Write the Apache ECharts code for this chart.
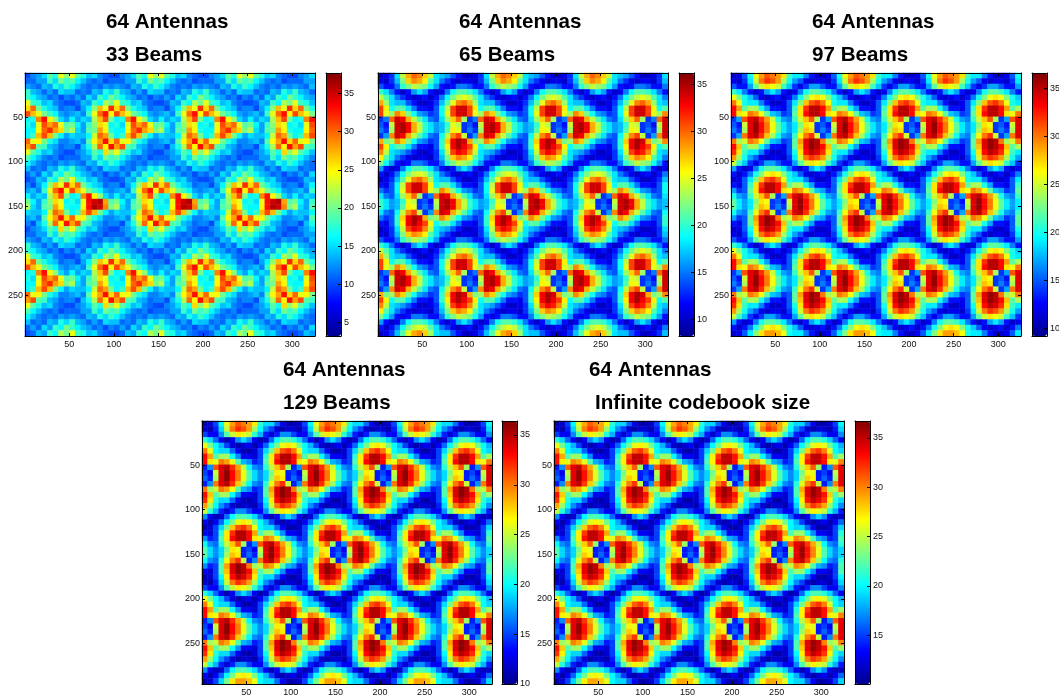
<!DOCTYPE html>
<html><head><meta charset="utf-8">
<style>html,body{margin:0;padding:0;background:#fff}#c{width:1059px;height:699px}</style>
<script src="https://cdn.jsdelivr.net/npm/echarts@6/dist/echarts.min.js"></script>
</head><body><div id="c"></div>
<script>
const beams33 = [
[10,12,13,15,19,17,24,21,24,19,17,14,15,12,11,10,10,12,13,15,19,17,24,21,24,19,17,14,15,12,11,10,10,12,13,15,19,17,24,21,24,19,17,14,15,12,11,10,10,12,13,15],
[11,11,13,13,18,15,20,18,19,16,14,12,11,12,10,11,11,11,13,13,18,15,20,18,19,16,14,12,11,12,10,11,11,11,13,13,18,15,20,18,19,16,14,12,11,12,10,11,11,11,13,13],
[13,12,11,14,13,17,15,18,16,14,12,11,12,11,13,12,13,12,11,14,13,17,15,18,16,14,12,11,12,11,13,12,13,12,11,14,13,17,15,18,16,14,12,11,12,11,13,12,13,12,11,14],
[18,14,13,11,13,11,15,14,14,11,12,11,14,13,17,15,18,14,13,11,13,11,15,14,14,11,12,11,14,13,17,15,18,14,13,11,13,11,15,14,14,11,12,11,14,13,17,15,18,14,13,11],
[18,16,14,13,11,12,10,12,11,13,11,15,13,18,16,20,18,16,14,13,11,12,10,12,11,13,11,15,13,18,16,20,18,16,14,13,11,12,10,12,11,13,11,15,13,18,16,20,18,16,14,13],
[24,18,17,14,15,12,11,10,10,11,14,13,18,16,22,20,24,18,17,14,15,12,11,10,10,11,14,13,18,16,22,20,24,18,17,14,15,12,11,10,10,11,14,13,18,16,22,20,24,18,17,14],
[26,30,20,17,15,14,11,12,12,10,13,16,21,27,24,32,26,30,20,17,15,14,11,12,12,10,13,16,21,27,24,32,26,30,20,17,15,14,11,12,12,10,13,16,21,27,24,32,26,30,20,17],
[31,27,24,20,18,16,13,12,13,14,12,18,24,30,33,25,31,27,24,20,18,16,13,12,13,14,12,18,24,30,33,25,31,27,24,20,18,16,13,12,13,14,12,18,24,30,33,25,31,27,24,20],
[16,17,29,33,25,21,15,13,16,13,15,14,22,27,31,20,16,17,29,33,25,21,15,13,16,13,15,14,22,27,31,20,16,17,29,33,25,21,15,13,16,13,15,14,22,27,31,20,16,17,29,33],
[17,15,24,31,28,30,24,19,20,16,13,18,21,26,24,16,17,15,24,31,28,30,24,19,20,16,13,18,21,26,24,16,17,15,24,31,28,30,24,19,20,16,13,18,21,26,24,16,17,15,24,31],
[16,16,25,30,32,28,26,20,22,15,13,19,20,28,25,17,16,16,25,30,32,28,26,20,22,15,13,19,20,28,25,17,16,16,25,30,32,28,26,20,22,15,13,19,20,28,25,17,16,16,25,30],
[16,18,27,31,27,20,16,13,15,14,14,16,23,30,28,20,16,18,27,31,27,20,16,13,15,14,14,16,23,30,28,20,16,18,27,31,27,20,16,13,15,14,14,16,23,30,28,20,16,18,27,31],
[30,24,25,20,17,15,12,12,13,14,12,19,25,28,33,26,30,24,25,20,17,15,12,12,13,14,12,19,25,28,33,26,30,24,25,20,17,15,12,12,13,14,12,19,25,28,33,26,30,24,25,20],
[28,31,19,18,14,13,11,12,12,10,14,17,22,30,25,33,28,31,19,18,14,13,11,12,12,10,14,17,22,30,25,33,28,31,19,18,14,13,11,12,12,10,14,17,22,30,25,33,28,31,19,18],
[24,19,17,14,15,12,11,10,10,12,13,15,19,17,26,21,24,19,17,14,15,12,11,10,10,12,13,15,19,17,26,21,24,19,17,14,15,12,11,10,10,12,13,15,19,17,26,21,24,19,17,14],
[19,16,14,12,11,12,10,11,11,11,13,13,18,15,20,18,19,16,14,12,11,12,10,11,11,11,13,13,18,15,20,18,19,16,14,12,11,12,10,11,11,11,13,13,18,15,20,18,19,16,14,12],
[16,14,12,11,12,11,13,12,13,12,11,14,13,17,15,18,16,14,12,11,12,11,13,12,13,12,11,14,13,17,15,18,16,14,12,11,12,11,13,12,13,12,11,14,13,17,15,18,16,14,12,11],
[14,11,12,11,14,13,17,15,18,14,13,11,13,11,15,14,14,11,12,11,14,13,17,15,18,14,13,11,13,11,15,14,14,11,12,11,14,13,17,15,18,14,13,11,13,11,15,14,14,11,12,11],
[11,13,11,15,13,18,16,20,18,16,14,13,11,12,10,12,11,13,11,15,13,18,16,20,18,16,14,13,11,12,10,12,11,13,11,15,13,18,16,20,18,16,14,13,11,12,10,12,11,13,11,15],
[10,11,14,13,18,16,22,20,24,18,17,14,15,12,11,10,10,11,14,13,18,16,22,20,24,18,17,14,15,12,11,10,10,11,14,13,18,16,22,20,24,18,17,14,15,12,11,10,10,11,14,13],
[12,10,13,16,21,27,24,32,26,30,20,17,15,14,11,12,12,10,13,16,21,27,24,32,26,30,20,17,15,14,11,12,12,10,13,16,21,27,24,32,26,30,20,17,15,14,11,12,12,10,13,16],
[13,14,12,18,24,30,33,25,31,27,24,20,18,16,13,12,13,14,12,18,24,30,33,25,31,27,24,20,18,16,13,12,13,14,12,18,24,30,33,25,31,27,24,20,18,16,13,12,13,14,12,18],
[16,13,15,14,22,27,31,20,16,17,29,33,25,21,15,13,16,13,15,14,22,27,31,20,16,17,29,33,25,21,15,13,16,13,15,14,22,27,31,20,16,17,29,33,25,21,15,13,16,13,15,14],
[20,16,13,18,21,26,24,16,17,15,24,33,35,36,28,19,20,16,13,18,21,26,24,16,17,15,24,33,35,36,28,19,20,16,13,18,21,26,24,16,17,15,24,33,35,36,28,19,20,16,13,18],
[22,15,13,19,20,28,25,17,16,16,25,33,36,35,29,20,22,15,13,19,20,28,25,17,16,16,25,33,36,35,29,20,22,15,13,19,20,28,25,17,16,16,25,33,36,35,29,20,22,15,13,19],
[15,14,14,16,23,30,28,20,16,18,27,31,27,20,16,13,15,14,14,16,23,30,28,20,16,18,27,31,27,20,16,13,15,14,14,16,23,30,28,20,16,18,27,31,27,20,16,13,15,14,14,16],
[13,14,12,19,25,28,33,26,30,24,25,20,17,15,12,12,13,14,12,19,25,28,33,26,30,24,25,20,17,15,12,12,13,14,12,19,25,28,33,26,30,24,25,20,17,15,12,12,13,14,12,19],
[12,10,14,17,22,30,25,33,28,31,19,18,14,13,11,12,12,10,14,17,22,30,25,33,28,31,19,18,14,13,11,12,12,10,14,17,22,30,25,33,28,31,19,18,14,13,11,12,12,10,14,17],
[10,12,13,15,19,17,26,21,24,19,17,14,15,12,11,10,10,12,13,15,19,17,26,21,24,19,17,14,15,12,11,10,10,12,13,15,19,17,26,21,24,19,17,14,15,12,11,10,10,12,13,15],
[11,11,13,13,18,15,20,18,19,16,14,12,11,12,10,11,11,11,13,13,18,15,20,18,19,16,14,12,11,12,10,11,11,11,13,13,18,15,20,18,19,16,14,12,11,12,10,11,11,11,13,13],
[13,12,11,14,13,17,15,18,16,14,12,11,12,11,13,12,13,12,11,14,13,17,15,18,16,14,12,11,12,11,13,12,13,12,11,14,13,17,15,18,16,14,12,11,12,11,13,12,13,12,11,14],
[18,14,13,11,13,11,15,14,14,11,12,11,14,13,17,15,18,14,13,11,13,11,15,14,14,11,12,11,14,13,17,15,18,14,13,11,13,11,15,14,14,11,12,11,14,13,17,15,18,14,13,11],
[18,16,14,13,11,12,10,12,11,13,11,15,13,18,16,20,18,16,14,13,11,12,10,12,11,13,11,15,13,18,16,20,18,16,14,13,11,12,10,12,11,13,11,15,13,18,16,20,18,16,14,13],
[24,18,17,14,15,12,11,10,10,11,14,13,18,16,22,20,24,18,17,14,15,12,11,10,10,11,14,13,18,16,22,20,24,18,17,14,15,12,11,10,10,11,14,13,18,16,22,20,24,18,17,14],
[26,30,20,17,15,14,11,12,12,10,13,16,21,27,24,32,26,30,20,17,15,14,11,12,12,10,13,16,21,27,24,32,26,30,20,17,15,14,11,12,12,10,13,16,21,27,24,32,26,30,20,17],
[31,27,24,20,18,16,13,12,13,14,12,18,24,30,33,25,31,27,24,20,18,16,13,12,13,14,12,18,24,30,33,25,31,27,24,20,18,16,13,12,13,14,12,18,24,30,33,25,31,27,24,20],
[16,17,29,33,25,21,15,13,16,13,15,14,22,27,31,20,16,17,29,33,25,21,15,13,16,13,15,14,22,27,31,20,16,17,29,33,25,21,15,13,16,13,15,14,22,27,31,20,16,17,29,33],
[17,15,24,31,28,30,24,19,20,16,13,18,21,26,24,16,17,15,24,31,28,30,24,19,20,16,13,18,21,26,24,16,17,15,24,31,28,30,24,19,20,16,13,18,21,26,24,16,17,15,24,31],
[16,16,25,30,32,28,26,20,22,15,13,19,20,28,25,17,16,16,25,30,32,28,26,20,22,15,13,19,20,28,25,17,16,16,25,30,32,28,26,20,22,15,13,19,20,28,25,17,16,16,25,30],
[16,18,27,31,27,20,16,13,15,14,14,16,23,30,28,20,16,18,27,31,27,20,16,13,15,14,14,16,23,30,28,20,16,18,27,31,27,20,16,13,15,14,14,16,23,30,28,20,16,18,27,31],
[30,24,25,20,17,15,12,12,13,14,12,19,25,28,33,26,30,24,25,20,17,15,12,12,13,14,12,19,25,28,33,26,30,24,25,20,17,15,12,12,13,14,12,19,25,28,33,26,30,24,25,20],
[28,31,19,18,14,13,11,12,12,10,14,17,22,30,25,33,28,31,19,18,14,13,11,12,12,10,14,17,22,30,25,33,28,31,19,18,14,13,11,12,12,10,14,17,22,30,25,33,28,31,19,18],
[24,19,17,14,15,12,11,10,10,12,13,15,19,17,26,21,24,19,17,14,15,12,11,10,10,12,13,15,19,17,26,21,24,19,17,14,15,12,11,10,10,12,13,15,19,17,26,21,24,19,17,14],
[19,16,14,12,11,12,10,11,11,11,13,13,18,15,20,18,19,16,14,12,11,12,10,11,11,11,13,13,18,15,20,18,19,16,14,12,11,12,10,11,11,11,13,13,18,15,20,18,19,16,14,12],
[16,14,12,11,12,11,13,12,13,12,11,14,13,17,15,18,16,14,12,11,12,11,13,12,13,12,11,14,13,17,15,18,16,14,12,11,12,11,13,12,13,12,11,14,13,17,15,18,16,14,12,11],
[14,11,12,11,14,13,17,15,18,14,13,11,13,11,15,14,14,11,12,11,14,13,17,15,18,14,13,11,13,11,15,14,14,11,12,11,14,13,17,15,18,14,13,11,13,11,15,14,14,11,12,11],
[11,13,11,15,13,18,16,20,18,16,14,13,11,12,10,12,11,13,11,15,13,18,16,20,18,16,14,13,11,12,10,12,11,13,11,15,13,18,16,20,18,16,14,13,11,12,10,12,11,13,11,15],
[10,11,14,13,18,16,22,20,24,18,17,14,15,12,11,10,10,11,14,13,18,16,22,20,24,18,17,14,15,12,11,10,10,11,14,13,18,16,22,20,24,18,17,14,15,12,11,10,10,11,14,13]];
const beams65 = [
[10,11,13,18,24,28,30,29,27,24,18,17,16,14,12,10,10,11,13,18,24,28,30,29,27,24,18,17,16,14,12,10,10,11,13,18,24,28,30,29,27,24,18,17,16,14,12,10,10,11,13,18],
[11,10,13,17,22,27,29,28,26,21,18,15,13,11,10,11,11,10,13,17,22,27,29,28,26,21,18,15,13,11,10,11,11,10,13,17,22,27,29,28,26,21,18,15,13,11,10,11,11,10,13,17],
[14,12,12,15,20,22,24,23,22,19,16,12,11,12,15,15,14,12,12,15,20,22,24,23,22,19,16,12,11,12,15,15,14,12,12,15,20,22,24,23,22,19,16,12,11,12,15,15,14,12,12,15],
[20,18,15,12,10,12,16,18,16,12,10,11,15,19,21,21,20,18,15,12,10,12,16,18,16,12,10,11,15,19,21,21,20,18,15,12,10,12,16,18,16,12,10,11,15,19,21,21,20,18,15,12],
[24,21,18,15,13,11,10,11,12,10,12,15,19,22,24,25,24,21,18,15,13,11,10,11,12,10,12,15,19,22,24,25,24,21,18,15,13,11,10,11,12,10,12,15,19,22,24,25,24,21,18,15],
[28,23,18,17,17,14,12,10,10,11,13,17,21,25,29,30,28,23,18,17,17,14,12,10,10,11,13,17,21,25,29,30,28,23,18,17,17,14,12,10,10,11,13,17,21,25,29,30,28,23,18,17],
[31,26,19,21,21,18,15,12,12,11,14,19,24,31,34,34,31,26,19,21,21,18,15,12,12,11,14,19,24,31,34,34,31,26,19,21,21,18,15,12,12,11,14,19,24,31,34,34,31,26,19,21],
[31,25,23,29,27,22,19,16,15,13,14,19,25,31,34,34,31,25,23,29,27,22,19,16,15,13,14,19,25,31,34,34,31,25,23,29,27,22,19,16,15,13,14,19,25,31,34,34,31,25,23,29],
[13,15,30,34,33,28,24,21,18,15,14,18,23,27,30,23,13,15,30,34,33,28,24,21,18,15,14,18,23,27,30,23,13,15,30,34,33,28,24,21,18,15,14,18,23,27,30,23,13,15,30,34],
[14,12,24,34,35,33,28,24,20,18,16,17,20,25,24,13,14,12,24,34,35,33,28,24,20,18,16,17,20,25,24,13,14,12,24,34,35,33,28,24,20,18,16,17,20,25,24,13,14,12,24,34],
[15,13,23,34,35,33,28,24,20,18,16,17,21,26,25,13,15,13,23,34,35,33,28,24,20,18,16,17,21,26,25,13,15,13,23,34,35,33,28,24,20,18,16,17,21,26,25,13,15,13,23,34],
[13,16,29,34,33,28,24,21,18,15,14,19,24,29,31,24,13,16,29,34,33,28,24,21,18,15,14,19,24,29,31,24,13,16,29,34,33,28,24,21,18,15,14,19,24,29,31,24,13,16,29,34],
[28,22,23,29,27,22,19,16,15,13,14,20,27,33,35,34,28,22,23,29,27,22,19,16,15,13,14,20,27,33,35,34,28,22,23,29,27,22,19,16,15,13,14,20,27,33,35,34,28,22,23,29],
[31,26,19,21,21,18,15,12,12,11,14,20,26,33,35,33,31,26,19,21,21,18,15,12,12,11,14,20,26,33,35,33,31,26,19,21,21,18,15,12,12,11,14,20,26,33,35,33,31,26,19,21],
[29,24,18,17,16,14,12,10,10,11,13,18,24,31,33,32,29,24,18,17,16,14,12,10,10,11,13,18,24,31,33,32,29,24,18,17,16,14,12,10,10,11,13,18,24,31,33,32,29,24,18,17],
[26,21,18,15,13,11,10,11,11,10,13,17,22,27,29,28,26,21,18,15,13,11,10,11,11,10,13,17,22,27,29,28,26,21,18,15,13,11,10,11,11,10,13,17,22,27,29,28,26,21,18,15],
[22,19,16,12,11,12,15,15,14,12,12,15,20,22,24,23,22,19,16,12,11,12,15,15,14,12,12,15,20,22,24,23,22,19,16,12,11,12,15,15,14,12,12,15,20,22,24,23,22,19,16,12],
[16,12,10,11,15,19,21,21,20,18,15,12,10,12,16,18,16,12,10,11,15,19,21,21,20,18,15,12,10,12,16,18,16,12,10,11,15,19,21,21,20,18,15,12,10,12,16,18,16,12,10,11],
[12,10,12,15,19,22,24,25,24,21,18,15,13,11,10,11,12,10,12,15,19,22,24,25,24,21,18,15,13,11,10,11,12,10,12,15,19,22,24,25,24,21,18,15,13,11,10,11,12,10,12,15],
[10,11,13,17,21,25,29,30,28,23,18,17,17,14,12,10,10,11,13,17,21,25,29,30,28,23,18,17,17,14,12,10,10,11,13,17,21,25,29,30,28,23,18,17,17,14,12,10,10,11,13,17],
[12,11,14,19,24,31,34,34,31,26,19,21,21,18,15,12,12,11,14,19,24,31,34,34,31,26,19,21,21,18,15,12,12,11,14,19,24,31,34,34,31,26,19,21,21,18,15,12,12,11,14,19],
[15,13,14,19,25,31,34,34,31,25,23,29,27,22,19,16,15,13,14,19,25,31,34,34,31,25,23,29,27,22,19,16,15,13,14,19,25,31,34,34,31,25,23,29,27,22,19,16,15,13,14,19],
[18,15,14,18,23,27,30,23,13,15,30,34,33,28,24,21,18,15,14,18,23,27,30,23,13,15,30,34,33,28,24,21,18,15,14,18,23,27,30,23,13,15,30,34,33,28,24,21,18,15,14,18],
[20,18,16,17,20,25,24,13,14,12,24,34,35,33,28,24,20,18,16,17,20,25,24,13,14,12,24,34,35,33,28,24,20,18,16,17,20,25,24,13,14,12,24,34,35,33,28,24,20,18,16,17],
[20,18,16,17,21,26,25,13,15,13,23,34,35,33,28,24,20,18,16,17,21,26,25,13,15,13,23,34,35,33,28,24,20,18,16,17,21,26,25,13,15,13,23,34,35,33,28,24,20,18,16,17],
[18,15,14,19,24,29,31,24,13,16,29,34,33,28,24,21,18,15,14,19,24,29,31,24,13,16,29,34,33,28,24,21,18,15,14,19,24,29,31,24,13,16,29,34,33,28,24,21,18,15,14,19],
[15,13,14,20,27,33,35,34,28,22,23,29,27,22,19,16,15,13,14,20,27,33,35,34,28,22,23,29,27,22,19,16,15,13,14,20,27,33,35,34,28,22,23,29,27,22,19,16,15,13,14,20],
[12,11,14,20,26,33,35,33,31,26,19,21,21,18,15,12,12,11,14,20,26,33,35,33,31,26,19,21,21,18,15,12,12,11,14,20,26,33,35,33,31,26,19,21,21,18,15,12,12,11,14,20],
[10,11,13,18,24,31,33,32,29,24,18,17,16,14,12,10,10,11,13,18,24,31,33,32,29,24,18,17,16,14,12,10,10,11,13,18,24,31,33,32,29,24,18,17,16,14,12,10,10,11,13,18],
[11,10,13,17,22,27,29,28,26,21,18,15,13,11,10,11,11,10,13,17,22,27,29,28,26,21,18,15,13,11,10,11,11,10,13,17,22,27,29,28,26,21,18,15,13,11,10,11,11,10,13,17],
[14,12,12,15,20,22,24,23,22,19,16,12,11,12,15,15,14,12,12,15,20,22,24,23,22,19,16,12,11,12,15,15,14,12,12,15,20,22,24,23,22,19,16,12,11,12,15,15,14,12,12,15],
[20,18,15,12,10,12,16,18,16,12,10,11,15,19,21,21,20,18,15,12,10,12,16,18,16,12,10,11,15,19,21,21,20,18,15,12,10,12,16,18,16,12,10,11,15,19,21,21,20,18,15,12],
[24,21,18,15,13,11,10,11,12,10,12,15,19,22,24,25,24,21,18,15,13,11,10,11,12,10,12,15,19,22,24,25,24,21,18,15,13,11,10,11,12,10,12,15,19,22,24,25,24,21,18,15],
[28,23,18,17,17,14,12,10,10,11,13,17,21,25,29,30,28,23,18,17,17,14,12,10,10,11,13,17,21,25,29,30,28,23,18,17,17,14,12,10,10,11,13,17,21,25,29,30,28,23,18,17],
[31,26,19,21,21,18,15,12,12,11,14,19,24,31,34,34,31,26,19,21,21,18,15,12,12,11,14,19,24,31,34,34,31,26,19,21,21,18,15,12,12,11,14,19,24,31,34,34,31,26,19,21],
[31,25,23,29,27,22,19,16,15,13,14,19,25,31,34,34,31,25,23,29,27,22,19,16,15,13,14,19,25,31,34,34,31,25,23,29,27,22,19,16,15,13,14,19,25,31,34,34,31,25,23,29],
[13,15,30,34,33,28,24,21,18,15,14,18,23,27,30,23,13,15,30,34,33,28,24,21,18,15,14,18,23,27,30,23,13,15,30,34,33,28,24,21,18,15,14,18,23,27,30,23,13,15,30,34],
[14,12,24,34,35,33,28,24,20,18,16,17,20,25,24,13,14,12,24,34,35,33,28,24,20,18,16,17,20,25,24,13,14,12,24,34,35,33,28,24,20,18,16,17,20,25,24,13,14,12,24,34],
[15,13,23,34,35,33,28,24,20,18,16,17,21,26,25,13,15,13,23,34,35,33,28,24,20,18,16,17,21,26,25,13,15,13,23,34,35,33,28,24,20,18,16,17,21,26,25,13,15,13,23,34],
[13,16,29,34,33,28,24,21,18,15,14,19,24,29,31,24,13,16,29,34,33,28,24,21,18,15,14,19,24,29,31,24,13,16,29,34,33,28,24,21,18,15,14,19,24,29,31,24,13,16,29,34],
[28,22,23,29,27,22,19,16,15,13,14,20,27,33,35,34,28,22,23,29,27,22,19,16,15,13,14,20,27,33,35,34,28,22,23,29,27,22,19,16,15,13,14,20,27,33,35,34,28,22,23,29],
[31,26,19,21,21,18,15,12,12,11,14,20,26,33,35,33,31,26,19,21,21,18,15,12,12,11,14,20,26,33,35,33,31,26,19,21,21,18,15,12,12,11,14,20,26,33,35,33,31,26,19,21],
[29,24,18,17,16,14,12,10,10,11,13,18,24,31,33,32,29,24,18,17,16,14,12,10,10,11,13,18,24,31,33,32,29,24,18,17,16,14,12,10,10,11,13,18,24,31,33,32,29,24,18,17],
[26,21,18,15,13,11,10,11,11,10,13,17,22,27,29,28,26,21,18,15,13,11,10,11,11,10,13,17,22,27,29,28,26,21,18,15,13,11,10,11,11,10,13,17,22,27,29,28,26,21,18,15],
[22,19,16,12,11,12,15,15,14,12,12,15,20,22,24,23,22,19,16,12,11,12,15,15,14,12,12,15,20,22,24,23,22,19,16,12,11,12,15,15,14,12,12,15,20,22,24,23,22,19,16,12],
[16,12,10,11,15,19,21,21,20,18,15,12,10,12,16,18,16,12,10,11,15,19,21,21,20,18,15,12,10,12,16,18,16,12,10,11,15,19,21,21,20,18,15,12,10,12,16,18,16,12,10,11],
[12,10,12,15,19,22,24,25,24,21,18,15,13,11,10,11,12,10,12,15,19,22,24,25,24,21,18,15,13,11,10,11,12,10,12,15,19,22,24,25,24,21,18,15,13,11,10,11,12,10,12,15],
[10,11,13,17,21,25,28,29,27,23,18,17,17,14,12,10,10,11,13,17,21,25,28,29,27,23,18,17,17,14,12,10,10,11,13,17,21,25,28,29,27,23,18,17,17,14,12,10,10,11,13,17]];
const beams97 = [
[11,12,15,20,26,29,31,30,29,27,21,19,19,16,13,11,11,12,15,20,26,29,31,30,29,27,21,19,19,16,13,11,11,12,15,20,26,29,31,30,29,27,21,19,19,16,13,11,11,12,15,20],
[12,11,14,19,25,30,32,31,29,24,20,17,15,12,11,12,12,11,14,19,25,30,32,31,29,24,20,17,15,12,11,12,12,11,14,19,25,30,32,31,29,24,20,17,15,12,11,12,12,11,14,19],
[15,13,13,17,22,25,27,26,25,21,18,14,12,14,17,17,15,13,13,17,22,25,27,26,25,21,18,14,12,14,17,17,15,13,13,17,22,25,27,26,25,21,18,14,12,14,17,17,15,13,13,17],
[21,19,16,13,11,13,17,19,17,13,11,12,16,20,22,22,21,19,16,13,11,13,17,19,17,13,11,12,16,20,22,22,21,19,16,13,11,13,17,19,17,13,11,12,16,20,22,22,21,19,16,13],
[26,23,20,18,15,12,11,12,13,11,13,16,20,23,26,27,26,23,20,18,15,12,11,12,13,11,13,16,20,23,26,27,26,23,20,18,15,12,11,12,13,11,13,16,20,23,26,27,26,23,20,18],
[30,26,20,19,19,16,13,11,11,12,15,19,23,28,31,32,30,26,20,19,19,16,13,11,11,12,15,19,23,28,31,32,30,26,20,19,19,16,13,11,11,12,15,19,23,28,31,32,30,26,20,19],
[33,29,22,24,24,20,17,13,13,12,15,21,27,32,35,35,33,29,22,24,24,20,17,13,13,12,15,21,27,32,35,35,33,29,22,24,24,20,17,13,13,12,15,21,27,32,35,35,33,29,22,24],
[33,27,26,30,29,26,22,18,17,14,15,22,27,33,35,35,33,27,26,30,29,26,22,18,17,14,15,22,27,33,35,35,33,27,26,30,29,26,22,18,17,14,15,22,27,33,35,35,33,27,26,30],
[14,17,31,34,35,32,29,25,20,17,16,21,25,28,31,24,14,17,31,34,35,32,29,25,20,17,16,21,25,28,31,24,14,17,31,34,35,32,29,25,20,17,16,21,25,28,31,24,14,17,31,34],
[15,13,25,34,36,33,30,26,22,19,17,19,23,27,26,14,15,13,25,34,36,33,30,26,22,19,17,19,23,27,26,14,15,13,25,34,36,33,30,26,22,19,17,19,23,27,26,14,15,13,25,34],
[16,14,24,34,36,33,30,26,22,19,17,19,24,28,27,14,16,14,24,34,36,33,30,26,22,19,17,19,24,28,27,14,16,14,24,34,36,33,30,26,22,19,17,19,24,28,27,14,16,14,24,34],
[14,17,30,34,35,32,28,24,20,17,16,21,26,30,32,25,14,17,30,34,35,32,28,24,20,17,16,21,26,30,32,25,14,17,30,34,35,32,28,24,20,17,16,21,26,30,32,25,14,17,30,34],
[30,24,25,30,29,26,22,18,17,14,15,22,29,34,36,35,30,24,25,30,29,26,22,18,17,14,15,22,29,34,36,35,30,24,25,30,29,26,22,18,17,14,15,22,29,34,36,35,30,24,25,30],
[33,28,22,24,24,20,17,13,13,12,15,22,28,34,36,35,33,28,22,24,24,20,17,13,13,12,15,22,28,34,36,35,33,28,22,24,24,20,17,13,13,12,15,22,28,34,36,35,33,28,22,24],
[32,27,21,19,19,16,13,11,11,12,15,20,27,33,35,34,32,27,21,19,19,16,13,11,11,12,15,20,27,33,35,34,32,27,21,19,19,16,13,11,11,12,15,20,27,33,35,34,32,27,21,19],
[29,24,20,17,15,12,11,12,12,11,14,19,25,30,32,31,29,24,20,17,15,12,11,12,12,11,14,19,25,30,32,31,29,24,20,17,15,12,11,12,12,11,14,19,25,30,32,31,29,24,20,17],
[25,21,18,14,12,14,17,17,15,13,13,17,22,25,27,26,25,21,18,14,12,14,17,17,15,13,13,17,22,25,27,26,25,21,18,14,12,14,17,17,15,13,13,17,22,25,27,26,25,21,18,14],
[17,13,11,12,16,20,22,22,21,19,16,13,11,13,17,19,17,13,11,12,16,20,22,22,21,19,16,13,11,13,17,19,17,13,11,12,16,20,22,22,21,19,16,13,11,13,17,19,17,13,11,12],
[13,11,13,16,20,23,26,27,26,23,20,18,15,12,11,12,13,11,13,16,20,23,26,27,26,23,20,18,15,12,11,12,13,11,13,16,20,23,26,27,26,23,20,18,15,12,11,12,13,11,13,16],
[11,12,15,19,23,28,31,32,30,26,20,19,19,16,13,11,11,12,15,19,23,28,31,32,30,26,20,19,19,16,13,11,11,12,15,19,23,28,31,32,30,26,20,19,19,16,13,11,11,12,15,19],
[13,12,15,21,27,32,35,35,33,29,22,24,24,20,17,13,13,12,15,21,27,32,35,35,33,29,22,24,24,20,17,13,13,12,15,21,27,32,35,35,33,29,22,24,24,20,17,13,13,12,15,21],
[17,14,15,22,27,33,35,35,33,27,26,30,29,26,22,18,17,14,15,22,27,33,35,35,33,27,26,30,29,26,22,18,17,14,15,22,27,33,35,35,33,27,26,30,29,26,22,18,17,14,15,22],
[20,17,16,21,25,28,31,24,14,17,31,34,35,32,29,25,20,17,16,21,25,28,31,24,14,17,31,34,35,32,29,25,20,17,16,21,25,28,31,24,14,17,31,34,35,32,29,25,20,17,16,21],
[22,19,17,19,23,27,26,14,15,13,25,34,36,33,30,26,22,19,17,19,23,27,26,14,15,13,25,34,36,33,30,26,22,19,17,19,23,27,26,14,15,13,25,34,36,33,30,26,22,19,17,19],
[22,19,17,19,24,28,27,14,16,14,24,34,36,33,30,26,22,19,17,19,24,28,27,14,16,14,24,34,36,33,30,26,22,19,17,19,24,28,27,14,16,14,24,34,36,33,30,26,22,19,17,19],
[20,17,16,21,26,30,32,25,14,17,30,34,35,32,28,24,20,17,16,21,26,30,32,25,14,17,30,34,35,32,28,24,20,17,16,21,26,30,32,25,14,17,30,34,35,32,28,24,20,17,16,21],
[17,14,15,22,29,34,36,35,30,24,25,30,29,26,22,18,17,14,15,22,29,34,36,35,30,24,25,30,29,26,22,18,17,14,15,22,29,34,36,35,30,24,25,30,29,26,22,18,17,14,15,22],
[13,12,15,22,28,34,36,35,33,28,22,24,24,20,17,13,13,12,15,22,28,34,36,35,33,28,22,24,24,20,17,13,13,12,15,22,28,34,36,35,33,28,22,24,24,20,17,13,13,12,15,22],
[11,12,15,20,27,33,35,34,32,27,21,19,19,16,13,11,11,12,15,20,27,33,35,34,32,27,21,19,19,16,13,11,11,12,15,20,27,33,35,34,32,27,21,19,19,16,13,11,11,12,15,20],
[12,11,14,19,25,30,32,31,29,24,20,17,15,12,11,12,12,11,14,19,25,30,32,31,29,24,20,17,15,12,11,12,12,11,14,19,25,30,32,31,29,24,20,17,15,12,11,12,12,11,14,19],
[15,13,13,17,22,25,27,26,25,21,18,14,12,14,17,17,15,13,13,17,22,25,27,26,25,21,18,14,12,14,17,17,15,13,13,17,22,25,27,26,25,21,18,14,12,14,17,17,15,13,13,17],
[21,19,16,13,11,13,17,19,17,13,11,12,16,20,22,22,21,19,16,13,11,13,17,19,17,13,11,12,16,20,22,22,21,19,16,13,11,13,17,19,17,13,11,12,16,20,22,22,21,19,16,13],
[26,23,20,18,15,12,11,12,13,11,13,16,20,23,26,27,26,23,20,18,15,12,11,12,13,11,13,16,20,23,26,27,26,23,20,18,15,12,11,12,13,11,13,16,20,23,26,27,26,23,20,18],
[30,26,20,19,19,16,13,11,11,12,15,19,23,28,31,32,30,26,20,19,19,16,13,11,11,12,15,19,23,28,31,32,30,26,20,19,19,16,13,11,11,12,15,19,23,28,31,32,30,26,20,19],
[33,29,22,24,24,20,17,13,13,12,15,21,27,32,35,35,33,29,22,24,24,20,17,13,13,12,15,21,27,32,35,35,33,29,22,24,24,20,17,13,13,12,15,21,27,32,35,35,33,29,22,24],
[33,27,26,30,29,26,22,18,17,14,15,22,27,33,35,35,33,27,26,30,29,26,22,18,17,14,15,22,27,33,35,35,33,27,26,30,29,26,22,18,17,14,15,22,27,33,35,35,33,27,26,30],
[14,17,31,34,35,32,29,25,20,17,16,21,25,28,31,24,14,17,31,34,35,32,29,25,20,17,16,21,25,28,31,24,14,17,31,34,35,32,29,25,20,17,16,21,25,28,31,24,14,17,31,34],
[15,13,25,34,36,33,30,26,22,19,17,19,23,27,26,14,15,13,25,34,36,33,30,26,22,19,17,19,23,27,26,14,15,13,25,34,36,33,30,26,22,19,17,19,23,27,26,14,15,13,25,34],
[16,14,24,34,36,33,30,26,22,19,17,19,24,28,27,14,16,14,24,34,36,33,30,26,22,19,17,19,24,28,27,14,16,14,24,34,36,33,30,26,22,19,17,19,24,28,27,14,16,14,24,34],
[14,17,30,34,35,32,28,24,20,17,16,21,26,30,32,25,14,17,30,34,35,32,28,24,20,17,16,21,26,30,32,25,14,17,30,34,35,32,28,24,20,17,16,21,26,30,32,25,14,17,30,34],
[30,24,25,30,29,26,22,18,17,14,15,22,29,34,36,35,30,24,25,30,29,26,22,18,17,14,15,22,29,34,36,35,30,24,25,30,29,26,22,18,17,14,15,22,29,34,36,35,30,24,25,30],
[33,28,22,24,24,20,17,13,13,12,15,22,28,34,36,35,33,28,22,24,24,20,17,13,13,12,15,22,28,34,36,35,33,28,22,24,24,20,17,13,13,12,15,22,28,34,36,35,33,28,22,24],
[32,27,21,19,19,16,13,11,11,12,15,20,27,33,35,34,32,27,21,19,19,16,13,11,11,12,15,20,27,33,35,34,32,27,21,19,19,16,13,11,11,12,15,20,27,33,35,34,32,27,21,19],
[29,24,20,17,15,12,11,12,12,11,14,19,25,30,32,31,29,24,20,17,15,12,11,12,12,11,14,19,25,30,32,31,29,24,20,17,15,12,11,12,12,11,14,19,25,30,32,31,29,24,20,17],
[25,21,18,14,12,14,17,17,15,13,13,17,22,25,27,26,25,21,18,14,12,14,17,17,15,13,13,17,22,25,27,26,25,21,18,14,12,14,17,17,15,13,13,17,22,25,27,26,25,21,18,14],
[17,13,11,12,16,20,22,22,21,19,16,13,11,13,17,19,17,13,11,12,16,20,22,22,21,19,16,13,11,13,17,19,17,13,11,12,16,20,22,22,21,19,16,13,11,13,17,19,17,13,11,12],
[13,11,13,16,20,23,26,27,26,23,20,18,15,12,11,12,13,11,13,16,20,23,26,27,26,23,20,18,15,12,11,12,13,11,13,16,20,23,26,27,26,23,20,18,15,12,11,12,13,11,13,16],
[11,12,15,19,23,27,29,29,28,26,20,19,19,16,13,11,11,12,15,19,23,27,29,29,28,26,20,19,19,16,13,11,11,12,15,19,23,27,29,29,28,26,20,19,19,16,13,11,11,12,15,19]];
const beams129 = beams97;
const beamsInfinite = beams97;
const xTicks = [50,100,150,200,250,300];
const yTicks = [50,100,150,200,250];
const panelTitles = [
  ['64 Antennas',106,12],['33 Beams',106,45],['64 Antennas',459,12],['65 Beams',459,45],
  ['64 Antennas',812,12],['97 Beams',812,45],['64 Antennas',283,360],['129 Beams',283,393],
  ['64 Antennas',589,360],['Infinite codebook size',595,393]];
const cbRanges = [[3.2,37.7],[8.2,36.2],[9.2,36.6],[10,36.4],[10.05,36.7]];
const cbTicks = [[5,10,15,20,25,30,35],[10,15,20,25,30,35],[10,15,20,25,30,35],[10,15,20,25,30,35],[15,20,25,30,35]];
const panelData = [beams33,beams65,beams97,beams129,beamsInfinite];
const rects = [[25,73,290,263,326],[378,73,290,263,679],[731,73,290,263,1032],[202,421,290,263,502],[554,421,290,263,855]];
const jet = ['#00008f','#0000ff','#0080ff','#00ffff','#80ff80','#ffff00','#ff8000','#ff0000','#800000'];

const font = 'Liberation Sans';
const grid=[],xAxis=[],yAxis=[],series=[],visualMap=[];
const line={show:true,onZero:false,lineStyle:{color:'#000',width:1}};
const tick=(v)=>({show:true,inside:true,length:3,lineStyle:{color:'#000',width:1},customValues:v});
const lbl=(v,m)=>({show:true,color:'#111',fontFamily:font,fontSize:9,margin:m,customValues:v,hideOverlap:false});
panelData.forEach((rows,k)=>{
  const [l,t,w,h,cx]=rects[k];
  const g=grid.length;
  grid.push({left:l,top:t,width:w,height:h,outerBoundsMode:'none'});
  const xi=xAxis.length, yi=yAxis.length;
  xAxis.push({gridIndex:g,type:'category',show:false,data:rows[0].map((_,i)=>i)});
  xAxis.push({gridIndex:g,type:'value',min:0.5,max:325.5,position:'bottom',z:10,splitLine:{show:false},axisLine:line,axisTick:tick(xTicks),axisLabel:lbl(xTicks,4)});
  xAxis.push({gridIndex:g,type:'value',min:0.5,max:325.5,position:'top',z:10,splitLine:{show:false},axisLine:line,axisTick:tick(xTicks),axisLabel:{show:false}});
  yAxis.push({gridIndex:g,type:'category',show:false,inverse:true,data:rows.map((_,i)=>i)});
  yAxis.push({gridIndex:g,type:'value',inverse:true,min:0.5,max:295.5,position:'left',z:10,splitLine:{show:false},axisLine:line,axisTick:tick(yTicks),axisLabel:lbl(yTicks,2)});
  yAxis.push({gridIndex:g,type:'value',inverse:true,min:0.5,max:295.5,position:'right',z:10,splitLine:{show:false},axisLine:line,axisTick:tick(yTicks),axisLabel:{show:false}});
  const d=[];
  rows.forEach((r,ri)=>r.forEach((v,ci)=>d.push([ci,ri,v])));
  series.push({type:'heatmap',xAxisIndex:xi,yAxisIndex:yi,data:d,silent:true,itemStyle:{borderWidth:0},emphasis:{disabled:true},progressive:0});
  visualMap.push({type:'continuous',seriesIndex:k,min:cbRanges[k][0],max:cbRanges[k][1],left:cx,top:t,itemWidth:15,itemHeight:h,padding:0,calculable:false,showLabel:false,text:null,realtime:false,hoverLink:false,inRange:{color:jet},silent:true});
  const cg=grid.length;
  grid.push({left:cx,top:t,width:15,height:h,outerBoundsMode:'none'});
  xAxis.push({gridIndex:cg,type:'value',min:0,max:1,position:'top',z:10,splitLine:{show:false},axisLine:line,axisTick:{show:false},axisLabel:{show:false}});
  xAxis.push({gridIndex:cg,type:'value',min:0,max:1,position:'bottom',z:10,splitLine:{show:false},axisLine:line,axisTick:{show:false},axisLabel:{show:false}});
  yAxis.push({gridIndex:cg,type:'value',min:cbRanges[k][0],max:cbRanges[k][1],position:'right',z:10,splitLine:{show:false},axisLine:line,axisTick:tick(cbTicks[k]),axisLabel:lbl(cbTicks[k],3)});
  yAxis.push({gridIndex:cg,type:'value',min:cbRanges[k][0],max:cbRanges[k][1],position:'left',z:10,splitLine:{show:false},axisLine:line,axisTick:{show:false},axisLabel:{show:false}});
});
const chart=echarts.init(document.getElementById('c'),null,{renderer:'canvas'});
chart.setOption({
  animation:false,backgroundColor:'#fff',
  title:panelTitles.map(([text,left,top])=>({text,left,top,padding:0,textStyle:{fontFamily:font,fontWeight:'bold',fontSize:20.6,color:'#000'}})),
  grid,xAxis,yAxis,visualMap,series
});
</script></body></html>
